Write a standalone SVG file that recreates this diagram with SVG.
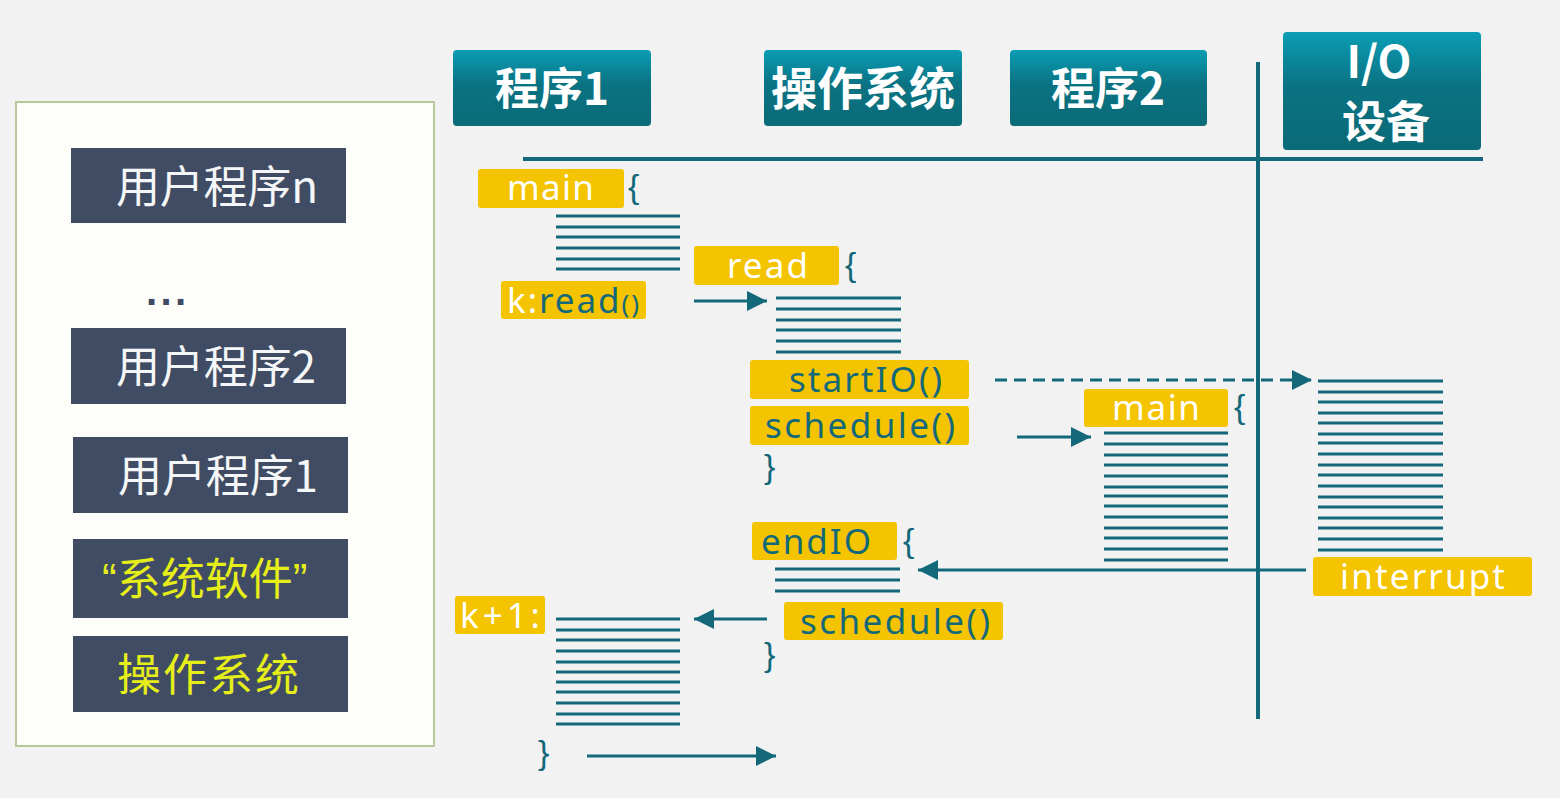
<svg xmlns="http://www.w3.org/2000/svg" width="1560" height="798" viewBox="0 0 1560 798">
<style>
.hdr{font-family:"Noto Sans CJK SC","Noto Sans",sans-serif;font-weight:bold;fill:#ffffff;text-anchor:middle}
.lbl{font-family:"Noto Sans CJK SC","Noto Sans",sans-serif;font-size:44px}
.q{font-family:"Liberation Sans",sans-serif}
.stk{fill:#404c63}
.ybox{fill:#f5c400}
.bt{font-family:"Noto Sans","Open Sans",sans-serif;font-size:35px}
.w{fill:#ffffff}
.t{fill:#13697a}
.br{font-family:"Liberation Sans",sans-serif;font-size:34px;fill:#13697a}
.ln{stroke:#13697a;stroke-width:3}
.conn{stroke:#13697a;stroke-width:3;fill:none}
</style>
<defs>
<linearGradient id="hg" x1="0" y1="0" x2="0" y2="1">
<stop offset="0" stop-color="#0b9db4"/>
<stop offset="0.45" stop-color="#0a7383"/>
<stop offset="1" stop-color="#0b6a77"/>
</linearGradient>
<marker id="ah" viewBox="0 0 20 20" refX="20" refY="10" markerWidth="20" markerHeight="20" markerUnits="userSpaceOnUse" orient="auto">
<path d="M0,0 L20,10 L0,20 Z" fill="#13697a"/>
</marker>
</defs>
<rect x="0" y="0" width="1560" height="798" fill="#f2f2f2"/>

<g id="stack-panel">
<rect x="16" y="102" width="418" height="644" fill="#fdfefa" stroke="#b7c89c" stroke-width="2"/>
</g>
<g id="user-n">
<rect class="stk" x="71" y="148" width="275" height="75"/>
<text class="lbl" x="116" y="203" fill="#f4f6f8" textLength="202">用户程序n</text>
</g>
<g id="dots">
<text x="146" y="305" font-family="Liberation Sans,sans-serif" font-size="40" font-weight="bold" fill="#404c63" textLength="40">...</text>
</g>
<g id="user-2">
<rect class="stk" x="71" y="328" width="275" height="76"/>
<text class="lbl" x="116" y="383" fill="#f4f6f8" textLength="200">用户程序2</text>
</g>
<g id="user-1">
<rect class="stk" x="73" y="437" width="275" height="76"/>
<text class="lbl" x="118" y="492" fill="#f4f6f8" textLength="200">用户程序1</text>
</g>
<g id="sys-soft">
<rect class="stk" x="73" y="539" width="275" height="79"/>
<text class="lbl" x="102" y="595" fill="#e6ee1a"><tspan class="q">“</tspan>系统软件<tspan class="q">”</tspan></text>
</g>
<g id="os-stack">
<rect class="stk" x="73" y="636" width="275" height="76"/>
<text class="lbl" x="117" y="691" fill="#e6ee1a" textLength="182">操作系统</text>
</g>

<g id="h-prog1">
<rect x="453" y="50" width="198" height="76" rx="4" fill="url(#hg)"/>
<text class="hdr" x="552" y="105" font-size="44">程序1</text>
</g>
<g id="h-os">
<rect x="764" y="50" width="198" height="76" rx="4" fill="url(#hg)"/>
<text class="hdr" x="863" y="105" font-size="46">操作系统</text>
</g>
<g id="h-prog2">
<rect x="1010" y="50" width="197" height="76" rx="4" fill="url(#hg)"/>
<text class="hdr" x="1108" y="105" font-size="44">程序2</text>
</g>
<g id="h-io">
<rect x="1283" y="32" width="198" height="118" rx="4" fill="url(#hg)"/>
<text class="hdr" x="1379" y="78" font-size="44">I/O</text>
<text class="hdr" x="1386" y="138" font-size="44">设备</text>
</g>

<g id="axes">
<line x1="523" y1="159" x2="1483" y2="159" stroke="#13697a" stroke-width="4"/>
<line x1="1258" y1="62" x2="1258" y2="719" stroke="#13697a" stroke-width="4"/>
</g>

<g id="p1-main">
<rect class="ybox" x="478" y="169" width="146" height="39" rx="3"/>
<text class="bt w" x="507" y="200" textLength="87">main</text>
<text class="br" x="628" y="198">{</text>
</g>
<g id="p1-code1" class="ln">
<line x1="556" y1="216" x2="680" y2="216"/>
<line x1="556" y1="227" x2="680" y2="227"/>
<line x1="556" y1="237" x2="680" y2="237"/>
<line x1="556" y1="248" x2="680" y2="248"/>
<line x1="556" y1="259" x2="680" y2="259"/>
<line x1="556" y1="269" x2="680" y2="269"/>
</g>
<g id="p1-kread">
<rect class="ybox" x="501" y="281" width="145" height="38" rx="3"/>
<text class="bt" x="507" y="313" textLength="132"><tspan class="w">k:</tspan><tspan class="t">read</tspan><tspan class="t" font-size="26">()</tspan></text>
</g>

<g id="os-read">
<rect class="ybox" x="694" y="246" width="145" height="39" rx="3"/>
<text class="bt w" x="727" y="278" textLength="81">read</text>
<text class="br" x="845" y="276">{</text>
</g>
<g id="os-code1" class="ln">
<line x1="776" y1="298" x2="901" y2="298"/>
<line x1="776" y1="309" x2="901" y2="309"/>
<line x1="776" y1="320" x2="901" y2="320"/>
<line x1="776" y1="330" x2="901" y2="330"/>
<line x1="776" y1="341" x2="901" y2="341"/>
<line x1="776" y1="352" x2="901" y2="352"/>
</g>
<g id="os-startio">
<rect class="ybox" x="750" y="360" width="219" height="39" rx="3"/>
<text class="bt t" x="789" y="392" textLength="153">startIO()</text>
</g>
<g id="os-schedule1">
<rect class="ybox" x="750" y="406" width="219" height="39" rx="3"/>
<text class="bt t" x="765" y="438" textLength="190">schedule()</text>
<text class="br" x="764" y="478">}</text>
</g>

<g id="p2-main">
<rect class="ybox" x="1084" y="389" width="144" height="38" rx="3"/>
<text class="bt w" x="1112" y="420" textLength="88">main</text>
<text class="br" x="1234" y="418">{</text>
</g>
<g id="p2-code" class="ln">
<line x1="1104" y1="433" x2="1228" y2="433"/>
<line x1="1104" y1="444" x2="1228" y2="444"/>
<line x1="1104" y1="455" x2="1228" y2="455"/>
<line x1="1104" y1="465" x2="1228" y2="465"/>
<line x1="1104" y1="476" x2="1228" y2="476"/>
<line x1="1104" y1="487" x2="1228" y2="487"/>
<line x1="1104" y1="496" x2="1228" y2="496"/>
<line x1="1104" y1="506" x2="1228" y2="506"/>
<line x1="1104" y1="517" x2="1228" y2="517"/>
<line x1="1104" y1="528" x2="1228" y2="528"/>
<line x1="1104" y1="538" x2="1228" y2="538"/>
<line x1="1104" y1="549" x2="1228" y2="549"/>
<line x1="1104" y1="560" x2="1228" y2="560"/>
</g>

<g id="io-code" class="ln">
<line x1="1318" y1="381" x2="1443" y2="381"/>
<line x1="1318" y1="392" x2="1443" y2="392"/>
<line x1="1318" y1="402" x2="1443" y2="402"/>
<line x1="1318" y1="413" x2="1443" y2="413"/>
<line x1="1318" y1="423" x2="1443" y2="423"/>
<line x1="1318" y1="434" x2="1443" y2="434"/>
<line x1="1318" y1="443" x2="1443" y2="443"/>
<line x1="1318" y1="454" x2="1443" y2="454"/>
<line x1="1318" y1="465" x2="1443" y2="465"/>
<line x1="1318" y1="475" x2="1443" y2="475"/>
<line x1="1318" y1="486" x2="1443" y2="486"/>
<line x1="1318" y1="497" x2="1443" y2="497"/>
<line x1="1318" y1="507" x2="1443" y2="507"/>
<line x1="1318" y1="518" x2="1443" y2="518"/>
<line x1="1318" y1="528" x2="1443" y2="528"/>
<line x1="1318" y1="539" x2="1443" y2="539"/>
<line x1="1318" y1="550" x2="1443" y2="550"/>
</g>
<g id="io-interrupt">
<rect class="ybox" x="1313" y="557" width="219" height="39" rx="3"/>
<text class="bt w" x="1340" y="589" textLength="165">interrupt</text>
</g>

<g id="os-endio">
<rect class="ybox" x="752" y="522" width="145" height="38" rx="3"/>
<text class="bt t" x="761" y="554" textLength="110">endIO</text>
<text class="br" x="903" y="552">{</text>
</g>
<g id="os-code2" class="ln">
<line x1="775" y1="569" x2="900" y2="569"/>
<line x1="775" y1="580" x2="900" y2="580"/>
<line x1="775" y1="591" x2="900" y2="591"/>
</g>
<g id="os-schedule2">
<rect class="ybox" x="784" y="602" width="219" height="38" rx="3"/>
<text class="bt t" x="800" y="634" textLength="190">schedule()</text>
<text class="br" x="764" y="666">}</text>
</g>

<g id="p1-k1">
<rect class="ybox" x="455" y="596" width="90" height="38" rx="3"/>
<text class="bt w" x="460" y="628" textLength="80">k+1:</text>
</g>
<g id="p1-code2" class="ln">
<line x1="556" y1="619" x2="680" y2="619"/>
<line x1="556" y1="630" x2="680" y2="630"/>
<line x1="556" y1="640" x2="680" y2="640"/>
<line x1="556" y1="651" x2="680" y2="651"/>
<line x1="556" y1="662" x2="680" y2="662"/>
<line x1="556" y1="672" x2="680" y2="672"/>
<line x1="556" y1="682" x2="680" y2="682"/>
<line x1="556" y1="692" x2="680" y2="692"/>
<line x1="556" y1="703" x2="680" y2="703"/>
<line x1="556" y1="714" x2="680" y2="714"/>
<line x1="556" y1="724" x2="680" y2="724"/>
</g>
<g id="p1-end">
<text class="br" x="538" y="764">}</text>
</g>

<g id="connectors" class="conn">
<line x1="694" y1="301" x2="767" y2="301" marker-end="url(#ah)"/>
<line x1="995" y1="380" x2="1312" y2="380" stroke-dasharray="12 7" marker-end="url(#ah)"/>
<line x1="1017" y1="437" x2="1091" y2="437" marker-end="url(#ah)"/>
<line x1="1306" y1="570" x2="918" y2="570" marker-end="url(#ah)"/>
<line x1="767" y1="619" x2="694" y2="619" marker-end="url(#ah)"/>
<line x1="587" y1="756" x2="776" y2="756" marker-end="url(#ah)"/>
</g>
</svg>
